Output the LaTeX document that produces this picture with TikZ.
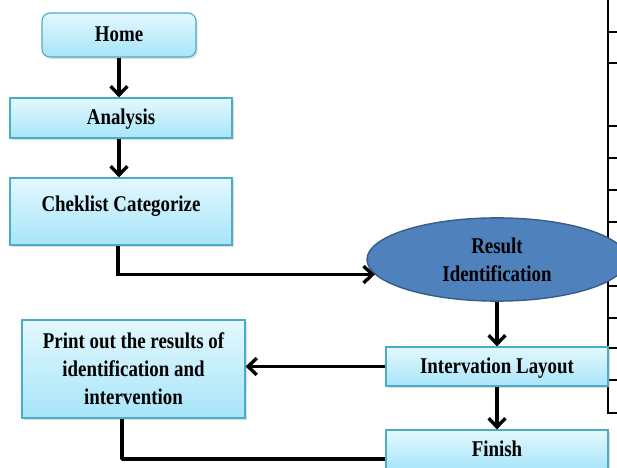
\documentclass[tikz,border=0pt]{standalone}
\usepackage{fontspec}
\setmainfont{Liberation Serif}[FakeStretch=0.84]
\usepackage{xcolor}
\definecolor{boxtop}{RGB}{228,248,254}
\definecolor{boxbot}{RGB}{166,229,249}
\definecolor{boxline}{RGB}{75,172,198}
\definecolor{ovalfill}{RGB}{79,129,189}
\definecolor{ovalline}{RGB}{56,93,138}
\usetikzlibrary{
    shapes.geometric,
    arrows.meta,
    positioning,
    calc,
    shadows
}

\begin{document}
\begin{tikzpicture}[
        stepbox/.style={rectangle, draw=boxline, line width=0.8pt, top color=boxtop, bottom color=boxbot, minimum width=5.55cm, align=center, font=\fontsize{16}{20}\selectfont\bfseries, drop shadow={opacity=0.25, shadow xshift=0.04cm, shadow yshift=-0.05cm}},
        oneline/.style={text height=0.38cm, text depth=0.05cm},
        oval/.style={ellipse, draw=ovalline, line width=1pt, fill=ovalfill, minimum width=6.5cm, minimum height=2.08cm, align=center, font=\fontsize{16}{20}\selectfont\bfseries},
        arr/.style={-{Straight Barb[length=0.22cm, width=0.42cm]}, line width=2.4pt},
        link/.style={line width=2.4pt, line join=round}
    ]
        \path[use as bounding box, clip] (0,0) rectangle (15.425,11.7);

        % table edge on the right
        \draw[line width=1.3pt] (15.2,11.7) -- (15.2,1.375) -- (15.425,1.375);
        \foreach \y in {10.9,10.125,8.55,7.75,6.95,6.15,5.35,4.55,3.75,3.0,2.2} {
            \draw[line width=1.3pt] (15.2,\y) -- (15.425,\y);
        }

        \node[stepbox, oneline, rounded corners=0.2cm, minimum width=3.85cm, minimum height=1.1cm] (home) at (2.975,10.825) {Home};
        \node[stepbox, oneline, minimum height=1.0cm] (ana) at (3.025,8.75) {Analysis};
        \node[stepbox, minimum height=1.675cm, text height=0.4cm, text depth=0.4cm] (chk) at (3.025,6.4125) {Cheklist Categorize};
        \node[oval] (res) at (12.425,5.2125) {Result\\Identification};
        \node[stepbox, oneline, minimum height=0.975cm] (lay) at (12.425,2.5375) {Intervation Layout};
        \node[stepbox, oneline, minimum height=1.0cm] (fin) at (12.425,0.45) {Finish};
        \node[stepbox, minimum width=5.575cm, minimum height=2.45cm] (prt) at (3.3375,2.475) {Print out the results of\\identification and\\intervention};

        \draw[arr] (home.south) -- (home.south |- ana.north);
        \draw[arr] ([xshift=-0.05cm]ana.south) -- ([xshift=-0.05cm]chk.north);
        \draw[arr] ([xshift=-0.075cm]chk.south) |- (res.187);
        \draw[arr] (res.south) -- (lay.north);
        \draw[arr] (lay.west) -- (lay.west -| prt.east);
        \draw[arr] (lay.south) -- (fin.north);
        \draw[link] ([yshift=-0.225cm]fin.west) -| ([xshift=-0.29cm]prt.south);
    \end{tikzpicture}
\end{document}
